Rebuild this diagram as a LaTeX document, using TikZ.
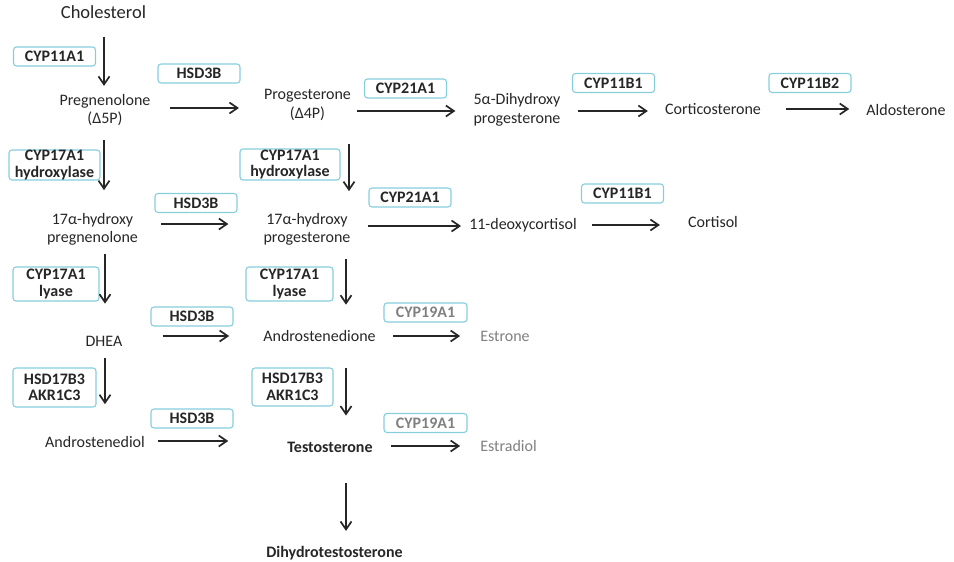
\documentclass[tikz,border=0pt]{standalone}
\usepackage{fontspec}
\setmainfont{Carlito}
\usetikzlibrary{arrows.meta,calc}
\definecolor{txt}{HTML}{262626}
\definecolor{gry}{HTML}{808080}
\definecolor{bx}{HTML}{86CEDD}
\begin{document}
\begin{tikzpicture}[x=1pt,y=-1pt,
  chem/.style={inner sep=0pt, align=center, text=txt, font=\fontsize{16}{18.5}\selectfont},
  chembold/.style={chem, font=\fontsize{16}{18.5}\selectfont\bfseries},
  enz/.style={draw=bx, line width=1.1pt, rounded corners=3pt, inner sep=0pt, align=center, text=txt,
    font=\fontsize{16}{16.5}\selectfont\bfseries, minimum width=82pt, minimum height=19pt},
  enzg/.style={enz, text=gry},
  arr/.style={draw=txt, line width=1.7pt, -{Straight Barb[length=8pt,width=11pt]}}]
\useasboundingbox (0,0) rectangle (954,562);

% metabolites
\node[chem, font=\fontsize{18.5}{20}\selectfont] (chol) at (103.5,12) {Cholesterol};
\node[chem] (preg) at (105,110) {Pregnenolone\\(Δ5P)};
\node[chem] (prog) at (307.5,105) {Progesterone\\(Δ4P)};
\node[chem] (dihp) at (517,110) {5α-Dihydroxy\\progesterone};
\node[chem] (cort) at (713,109) {Corticosterone};
\node[chem] (aldo) at (906,110) {Aldosterone};
\node[chem] (ohpreg) at (92.5,229.5) {17α-hydroxy\\pregnenolone};
\node[chem] (ohprog) at (307,229.5) {17α-hydroxy\\progesterone};
\node[chem] (deoxy) at (523,225) {11-deoxycortisol};
\node[chem] (cortisol) at (713,222) {Cortisol};
\node[chem] (dhea) at (104,341) {DHEA};
\node[chem] (andro) at (319.5,336.5) {Androstenedione};
\node[chem, text=gry] (estrone) at (505,336) {Estrone};
\node[chem] (adiol) at (95,442) {Androstenediol};
\node[chembold] (testo) at (330,447) {Testosterone};
\node[chem, text=gry] (estradiol) at (508.5,446) {Estradiol};
\node[chembold] (dht) at (334.5,553) {Dihydrotestosterone};

% enzymes
\node[enz] (e1) at (54.5,56.5) {CYP11A1};
\node[enz] (e2) at (199,73.5) {HSD3B};
\node[enz] (e3) at (405.5,88.5) {CYP21A1};
\node[enz] (e4) at (613.5,83) {CYP11B1};
\node[enz] (e5) at (810,83) {CYP11B2};
\node[enz, minimum width=91pt, minimum height=30pt] (e6) at (54.5,165) {CYP17A1\\hydroxylase};
\node[enz, minimum width=100pt, minimum height=31pt] (e7) at (290,164.5) {CYP17A1\\hydroxylase};
\node[enz] (e8) at (196,203) {HSD3B};
\node[enz] (e9) at (410,197.5) {CYP21A1};
\node[enz] (e10) at (622.5,193.5) {CYP11B1};
\node[enz, minimum width=86pt, minimum height=34pt] (e11) at (56,284) {CYP17A1\\lyase};
\node[enz, minimum width=87pt, minimum height=34pt] (e12) at (289.5,284) {CYP17A1\\lyase};
\node[enz] (e13) at (192,316.5) {HSD3B};
\node[enzg, minimum width=83pt] (e14) at (425.5,312.5) {CYP19A1};
\node[enz, minimum width=83pt, minimum height=39pt] (e15) at (54.5,387.5) {HSD17B3\\AKR1C3};
\node[enz, minimum width=81pt, minimum height=38pt] (e16) at (292.5,387) {HSD17B3\\AKR1C3};
\node[enz] (e17) at (192,418.5) {HSD3B};
\node[enzg, minimum width=83pt] (e18) at (425.5,423) {CYP19A1};

% horizontal reactions
\draw[arr] ($(preg.east)+(19,-2)$) -- ($(preg.east -| prog.west)+(-25,-2)$);
\draw[arr] ($(prog.east)+(6,6)$) -- ($(prog.east -| dihp.west)+(-18,6)$);
\draw[arr] ($(dihp.east)+(17,1)$) -- ($(dihp.east -| cort.west)+(-17,1)$);
\draw[arr] ($(cort.east)+(25,0)$) -- ($(cort.east -| aldo.west)+(-17,0)$);
\draw[arr] ($(ohpreg.east)+(23,-5.5)$) -- ($(ohpreg.east -| ohprog.west)+(-35,-5.5)$);
\draw[arr] ($(ohprog.east)+(17,-3.5)$) -- ($(ohprog.east -| deoxy.west)+(-8,-3.5)$);
\draw[arr] ($(deoxy.east)+(15,0)$) -- ($(deoxy.east -| cortisol.west)+(-28,0)$);
\draw[arr] ($(dhea.east)+(40,-5)$) -- ($(dhea.east -| andro.west)+(-34,-5)$);
\draw[arr] ($(andro.east)+(17,-0.5)$) -- ($(andro.east -| estrone.west)+(-20,-0.5)$);
\draw[arr] ($(adiol.east)+(13,-1)$) -- ($(adiol.east -| testo.west)+(-59,-1)$);
\draw[arr] ($(testo.east)+(18,-1)$) -- ($(testo.east -| estradiol.west)+(-20,-1)$);

% vertical reactions
\draw[arr] ($(chol.south)+(0.5,18)$) -- ($(chol.south |- preg.north)+(0.5,-8)$);
\draw[arr] ($(preg.south)+(-1,14)$) -- ($(preg.south |- ohpreg.north)+(-1,-23)$);
\draw[arr] ($(ohpreg.south)+(12.5,8)$) -- ($(ohpreg.south |- dhea.north)+(12.5,-32)$);
\draw[arr] ($(dhea.south)+(1,12)$) -- ($(dhea.south |- adiol.north)+(1,-32)$);
\draw[arr] ($(prog.south)+(41.5,23)$) -- ($(prog.south |- ohprog.north)+(41.5,-22)$);
\draw[arr] ($(ohprog.south)+(39,13)$) -- ($(ohprog.south |- andro.north)+(39,-26)$);
\draw[arr] ($(andro.south)+(26.5,26)$) -- ($(andro.south |- testo.north)+(26.5,-26)$);
\draw[arr] ($(testo.south)+(16,31)$) -- ($(testo.south |- dht.north)+(16,-15)$);
\end{tikzpicture}
\end{document}
